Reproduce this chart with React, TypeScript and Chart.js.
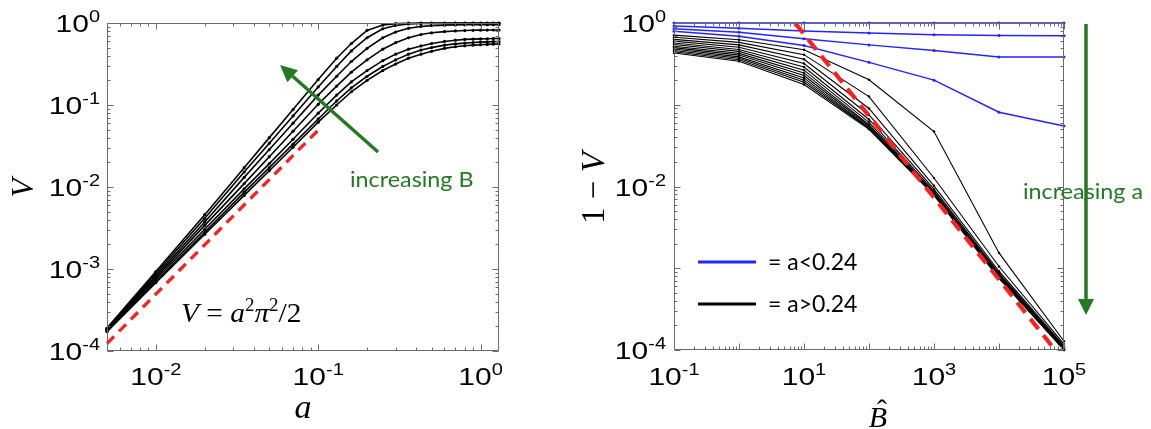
import React, { useEffect, useRef } from "react";
import { Chart, registerables } from "chart.js";

Chart.register(...registerables);

// ---------- left panel: V against a, one curve per B (curve 1 = largest B) ----------
const aValues = [0.005, 0.01, 0.02, 0.035, 0.05, 0.07, 0.1, 0.13, 0.16, 0.2, 0.25, 0.3, 0.36, 0.43, 0.5, 0.6, 0.7, 0.8, 0.9, 1.0, 1.1, 1.2, 1.3];

const vCurve1 = [1.9e-4, 9.3e-4, 4.6e-3, 1.72e-2, 4.0e-2, 8.8e-2, 0.204, 0.372, 0.562, 0.813, 0.944, 0.982, 0.995, 0.998, 0.999, 1, 1, 1, 1, 1, 1, 1, 1];
const vCurve2 = [1.87e-4, 8.8e-4, 4.15e-3, 1.52e-2, 3.42e-2, 7.35e-2, 0.166, 0.295, 0.457, 0.661, 0.851, 0.933, 0.973, 0.984, 0.988, 0.99, 0.99, 0.99, 0.99, 0.99, 0.99, 0.99, 0.99];
const vCurve3 = [1.84e-4, 8.35e-4, 3.75e-3, 1.31e-2, 2.86e-2, 6.0e-2, 0.132, 0.224, 0.339, 0.49, 0.661, 0.776, 0.861, 0.908, 0.929, 0.942, 0.948, 0.953, 0.955, 0.955, 0.955, 0.955, 0.955];
const vCurve4 = [1.81e-4, 7.9e-4, 3.4e-3, 1.1e-2, 2.34e-2, 4.79e-2, 0.102, 0.17, 0.251, 0.355, 0.479, 0.575, 0.661, 0.724, 0.759, 0.785, 0.8, 0.809, 0.815, 0.818, 0.82, 0.822, 0.822];
const vCurve5 = [1.78e-4, 7.5e-4, 3.05e-3, 9.5e-3, 1.93e-2, 3.82e-2, 7.94e-2, 0.132, 0.191, 0.263, 0.347, 0.417, 0.479, 0.525, 0.562, 0.596, 0.617, 0.631, 0.635, 0.64, 0.643, 0.646, 0.646];
const vCurve6 = [1.75e-4, 7.1e-4, 2.8e-3, 8.6e-3, 1.72e-2, 3.33e-2, 6.76e-2, 0.112, 0.162, 0.224, 0.295, 0.355, 0.417, 0.468, 0.501, 0.537, 0.556, 0.569, 0.578, 0.585, 0.589, 0.592, 0.593];
const vCurve7 = [1.72e-4, 6.8e-4, 2.65e-3, 7.9e-3, 1.58e-2, 3.05e-2, 6.17e-2, 0.1, 0.145, 0.2, 0.263, 0.316, 0.372, 0.417, 0.452, 0.49, 0.513, 0.527, 0.537, 0.543, 0.548, 0.552, 0.555];

// small-a limit V = a^2 pi^2 / 2
const limitA = [0.005, 0.1];
const limitV = [0.0001234, 0.04935];

const leftXTicks = [0.01, 0.1, 1];
const leftYTicks = [1, 0.1, 0.01, 0.001, 0.0001];

// ---------- right panel: 1 - V against B-hat ----------
const bHat = [0.1, 1, 10, 100, 1000, 10000, 100000];

// a < 0.24
const blue1 = [1, 1, 1, 1, 1, 1, 1];
const blue2 = [0.92, 0.86, 0.8, 0.755, 0.72, 0.705, 0.7];
const blue3 = [0.85, 0.77, 0.64, 0.54, 0.46, 0.385, 0.385];
const blue4 = [0.79, 0.69, 0.53, 0.33, 0.2, 0.081, 0.055];

// a > 0.24
const black1 = [0.71, 0.625, 0.47, 0.202, 0.047, 0.00154, 0.000128];
const black2 = [0.67, 0.58, 0.41, 0.126, 0.0127, 0.00105, 0.000118];
const black3 = [0.63, 0.54, 0.36, 0.09, 0.0102, 0.00092, 0.000112];
const black4 = [0.6, 0.505, 0.32, 0.075, 0.0093, 0.00087, 0.000109];
const black5 = [0.57, 0.475, 0.29, 0.066, 0.0088, 0.00084, 0.000107];
const black6 = [0.545, 0.45, 0.265, 0.061, 0.0085, 0.00082, 0.000105];
const black7 = [0.52, 0.425, 0.245, 0.057, 0.0083, 0.0008, 0.000104];
const black8 = [0.5, 0.405, 0.228, 0.055, 0.0082, 0.00079, 0.000103];
const black9 = [0.48, 0.385, 0.213, 0.053, 0.0081, 0.00078, 0.000102];
const black10 = [0.46, 0.37, 0.2, 0.052, 0.008, 0.00077, 0.000101];
const black11 = [0.445, 0.355, 0.188, 0.051, 0.0079, 0.00076, 0.0001];
const black12 = [0.43, 0.34, 0.177, 0.05, 0.0078, 0.00075, 0.0001];

// large-B asymptote
const asymB = [7.3, 73000];
const asymV = [1, 0.0001];

const rightXTicks = [0.1, 10, 1000, 100000];
const rightYTicks = [1, 0.01, 0.0001];

const legendLabels = ["= a<0.24", "= a>0.24"];

// ---------- styling ----------
const FRAME = "#6b6b6b";
const GREEN = "#237a23";
const RED = "#ff1f1f";
const BLUE = "#2424ff";
const TICK_FONT = '24px "Liberation Sans"';
const SUP_FONT = '16px "Liberation Sans"';
const TICK_SX = 1.25;
const SERIF_I = (px: number) => `italic ${px}px "Liberation Serif"`;
const SERIF = (px: number) => `${px}px "Liberation Serif"`;
const NOTE_FONT = '22px "Lato"';
const LEGEND_FONT = '23px "Lato"';

type Run = { t: string; font: string; dy?: number };

function runsWidth(ctx: CanvasRenderingContext2D, runs: Run[]) {
  let w = 0;
  for (const r of runs) {
    ctx.font = r.font;
    w += ctx.measureText(r.t).width;
  }
  return w;
}

function drawRuns(
  ctx: CanvasRenderingContext2D,
  runs: Run[],
  x: number,
  y: number,
  align: "left" | "center" | "right",
  sx = 1,
  color = "#000"
) {
  const w = runsWidth(ctx, runs) * sx;
  const start = align === "left" ? x : align === "center" ? x - w / 2 : x - w;
  ctx.save();
  ctx.translate(start, y);
  ctx.scale(sx, 1);
  ctx.fillStyle = color;
  ctx.textAlign = "left";
  ctx.textBaseline = "alphabetic";
  let cx = 0;
  for (const r of runs) {
    ctx.font = r.font;
    ctx.fillText(r.t, cx, r.dy || 0);
    cx += ctx.measureText(r.t).width;
  }
  ctx.restore();
}

function powerLabel(v: number): Run[] {
  const e = Math.round(Math.log10(v));
  return [
    { t: "10", font: TICK_FONT },
    { t: String(e), font: SUP_FONT, dy: -10 },
  ];
}

function decadeTicks(min: number, max: number) {
  const out: { v: number; major: boolean }[] = [];
  const e0 = Math.floor(Math.log10(min));
  const e1 = Math.ceil(Math.log10(max));
  for (let e = e0; e <= e1; e++) {
    for (let m = 1; m < 10; m++) {
      const v = m * Math.pow(10, e);
      if (v >= min * 0.9999 && v <= max * 1.0001) out.push({ v, major: m === 1 });
    }
  }
  return out;
}

function drawFrame(chart: any) {
  const { ctx, chartArea: ca, scales } = chart;
  const x = scales.x;
  const y = scales.y;
  ctx.save();
  ctx.strokeStyle = FRAME;
  ctx.lineWidth = 1;
  const L = Math.round(ca.left) + 0.5;
  const R = Math.round(ca.right) - 0.5;
  const T = Math.round(ca.top) + 0.5;
  const B = Math.round(ca.bottom) - 0.5;
  ctx.strokeRect(L, T, R - L, B - T);
  ctx.beginPath();
  for (const t of decadeTicks(x.min, x.max)) {
    const p = Math.round(x.getPixelForValue(t.v)) + 0.5;
    const len = t.major ? 6 : 3;
    ctx.moveTo(p, B);
    ctx.lineTo(p, B - len);
    ctx.moveTo(p, T);
    ctx.lineTo(p, T + len);
  }
  for (const t of decadeTicks(y.min, y.max)) {
    const p = Math.round(y.getPixelForValue(t.v)) + 0.5;
    const len = t.major ? 6 : 3;
    ctx.moveTo(L, p);
    ctx.lineTo(L + len, p);
    ctx.moveTo(R, p);
    ctx.lineTo(R - len, p);
  }
  ctx.stroke();
  ctx.restore();
}

function drawTickLabels(chart: any, xs: number[], ys: number[], yGap: number, xBase: number) {
  const { ctx, chartArea: ca, scales } = chart;
  for (const v of ys) {
    const p = scales.y.getPixelForValue(v);
    drawRuns(ctx, powerLabel(v), ca.left - yGap, p + 9, "right", TICK_SX);
  }
  for (const v of xs) {
    const p = scales.x.getPixelForValue(v);
    drawRuns(ctx, powerLabel(v), p, xBase, "center", TICK_SX);
  }
}

function drawArrow(
  ctx: CanvasRenderingContext2D,
  x0: number,
  y0: number,
  x1: number,
  y1: number,
  width: number,
  headLen: number,
  headHalf: number,
  color: string
) {
  const ang = Math.atan2(y1 - y0, x1 - x0);
  const bx = x1 - headLen * Math.cos(ang);
  const by = y1 - headLen * Math.sin(ang);
  ctx.save();
  ctx.strokeStyle = color;
  ctx.fillStyle = color;
  ctx.lineWidth = width;
  ctx.beginPath();
  ctx.moveTo(x0, y0);
  ctx.lineTo(bx, by);
  ctx.stroke();
  ctx.beginPath();
  ctx.moveTo(x1, y1);
  ctx.lineTo(bx + headHalf * Math.sin(ang), by - headHalf * Math.cos(ang));
  ctx.lineTo(bx - headHalf * Math.sin(ang), by + headHalf * Math.cos(ang));
  ctx.closePath();
  ctx.fill();
  ctx.restore();
}

function drawRotated(ctx: CanvasRenderingContext2D, runs: Run[], cx: number, cy: number, base: number) {
  ctx.save();
  ctx.translate(cx, cy);
  ctx.rotate(-Math.PI / 2);
  drawRuns(ctx, runs, 0, base, "center");
  ctx.restore();
}

const leftDecor = {
  id: "leftDecor",
  afterDraw(chart: any) {
    const { ctx } = chart;
    drawFrame(chart);
    drawTickLabels(chart, leftXTicks, leftYTicks, 7, 385);
    // axis titles
    drawRotated(ctx, [{ t: "V", font: SERIF_I(31) }], 23, 188, 10);
    drawRuns(ctx, [{ t: "a", font: SERIF_I(34) }], 303, 418, "center");
    // limit formula
    drawRuns(
      ctx,
      [
        { t: "V", font: SERIF_I(28) },
        { t: " = ", font: SERIF(28) },
        { t: "a", font: SERIF_I(28) },
        { t: "2", font: SERIF(18), dy: -11 },
        { t: "π", font: SERIF_I(28) },
        { t: "2", font: SERIF(18), dy: -11 },
        { t: "/2", font: SERIF(28) },
      ],
      181,
      322,
      "left",
      1.05
    );
    // increasing B note
    drawArrow(ctx, 378, 152, 280, 65, 3.5, 17, 8, GREEN);
    drawRuns(ctx, [{ t: "increasing B", font: NOTE_FONT }], 350, 187, "left", 1.06, GREEN);
  },
};

const rightDecor = {
  id: "rightDecor",
  afterDraw(chart: any) {
    const { ctx } = chart;
    drawFrame(chart);
    drawTickLabels(chart, rightXTicks, rightYTicks, 8, 385);
    drawRotated(
      ctx,
      [
        { t: "1 − ", font: SERIF(33) },
        { t: "V", font: SERIF_I(33) },
      ],
      33,
      188,
      11
    );
    drawRuns(ctx, [{ t: "B", font: SERIF_I(30) }], 318, 427, "center");
    drawRuns(ctx, [{ t: "ˆ", font: SERIF(30) }], 322, 420, "center");

    // legend
    const rows = [
      { color: BLUE, y: 262 },
      { color: "#000", y: 304 },
    ];
    rows.forEach((r, i) => {
      ctx.save();
      ctx.strokeStyle = r.color;
      ctx.lineWidth = 3;
      ctx.beginPath();
      ctx.moveTo(138, r.y);
      ctx.lineTo(196, r.y);
      ctx.stroke();
      ctx.restore();
      drawRuns(ctx, [{ t: legendLabels[i], font: LEGEND_FONT }], 208, r.y + 8, "left", 1.0, "#000");
    });

    // increasing a note
    drawRuns(ctx, [{ t: "increasing a", font: NOTE_FONT }], 463, 199, "left", 1.06, GREEN);
    drawArrow(ctx, 526, 24, 526, 315, 3.5, 16, 8, GREEN);
  },
};

function pts(xs: number[], ys: number[]) {
  return xs.map((x, i) => ({ x, y: ys[i] }));
}

export default function App() {
  const leftRef = useRef<HTMLCanvasElement>(null);
  const rightRef = useRef<HTMLCanvasElement>(null);

  useEffect(() => {
    const leftCurves = [vCurve1, vCurve2, vCurve3, vCurve4, vCurve5, vCurve6, vCurve7];
    const left = new Chart(leftRef.current as HTMLCanvasElement, {
      type: "line",
      data: {
        datasets: [
          {
            label: "V = a²π²/2",
            data: pts(limitA, limitV),
            borderColor: RED,
            borderWidth: 3.3,
            borderDash: [10, 7],
            pointRadius: 0,
            clip: 4,
          } as any,
          ...leftCurves.map((vs, k) => ({
            label: `B${k + 1}`,
            data: pts(aValues, vs),
            borderColor: "#000",
            borderWidth: 1.6,
            pointRadius: 1.6,
            pointBorderWidth: 0,
            pointBackgroundColor: "#000",
            clip: 4,
          })),
        ],
      },
      options: {
        responsive: false,
        animation: false,
        events: [],
        layout: { padding: { left: 107, top: 23, right: 61, bottom: 78 } },
        elements: { line: { tension: 0 } },
        plugins: { legend: { display: false }, tooltip: { enabled: false } },
        scales: {
          x: { type: "logarithmic", min: 0.005, max: 1.3, display: false },
          y: { type: "logarithmic", min: 0.0001, max: 1, display: false },
        },
      },
      plugins: [leftDecor],
    });

    const blues = [blue1, blue2, blue3, blue4];
    const blacks = [black1, black2, black3, black4, black5, black6, black7, black8, black9, black10, black11, black12];
    const right = new Chart(rightRef.current as HTMLCanvasElement, {
      type: "line",
      data: {
        datasets: [
          {
            label: "asymptote",
            data: pts(asymB, asymV),
            borderColor: RED,
            borderWidth: 4.2,
            borderDash: [13, 8],
            pointRadius: 0,
            clip: 4,
          } as any,
          ...blues.map((vs, k) => ({
            label: `a<0.24 #${k + 1}`,
            data: pts(bHat, vs),
            borderColor: BLUE,
            borderWidth: 1.5,
            pointRadius: 1.5,
            pointBorderWidth: 0,
            pointBackgroundColor: BLUE,
            clip: 4,
          })),
          ...blacks.map((vs, k) => ({
            label: `a>0.24 #${k + 1}`,
            data: pts(bHat, vs),
            borderColor: "#000",
            borderWidth: 1.1,
            pointRadius: 1.2,
            pointBorderWidth: 0,
            pointBackgroundColor: "#000",
            clip: 4,
          })),
        ],
      },
      options: {
        responsive: false,
        animation: false,
        events: [],
        layout: { padding: { left: 114, top: 23, right: 87, bottom: 79 } },
        elements: { line: { tension: 0 } },
        plugins: { legend: { display: false }, tooltip: { enabled: false } },
        scales: {
          x: { type: "logarithmic", min: 0.1, max: 100000, display: false },
          y: { type: "logarithmic", min: 0.0001, max: 1, display: false },
        },
      },
      plugins: [rightDecor],
    });

    return () => {
      left.destroy();
      right.destroy();
    };
  }, []);

  return (
    <div
      style={{
        position: "absolute",
        left: 0,
        top: 0,
        width: 1151,
        height: 429,
        background: "#fff",
        overflow: "hidden",
      }}
    >
      <canvas
        ref={leftRef}
        width={560}
        height={429}
        style={{ position: "absolute", left: 0, top: 0, width: 560, height: 429 }}
      />
      <canvas
        ref={rightRef}
        width={591}
        height={429}
        style={{ position: "absolute", left: 560, top: 0, width: 591, height: 429 }}
      />
    </div>
  );
}
